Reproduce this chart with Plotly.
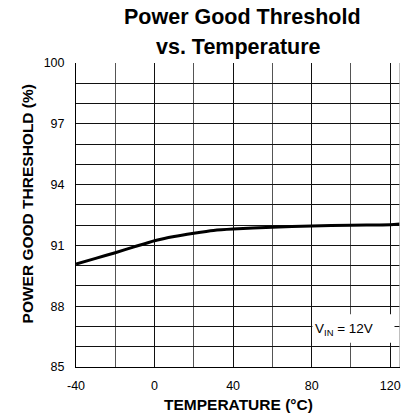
import plotly.graph_objects as go

temperature = [-40, -30, -20, -10, 0, 10, 20, 30, 40, 60, 80, 100, 120, 125]
threshold = [90.08, 90.36, 90.64, 90.94, 91.23, 91.44, 91.6, 91.74, 91.81, 91.89, 91.96, 92.0, 92.02, 92.05]

x_ticks = [-40, 0, 40, 80, 120]
y_ticks = [85, 88, 91, 94, 97, 100]

FONT = "Liberation Sans, Arial, sans-serif"

fig = go.Figure()
fig.add_trace(go.Scatter(
    x=temperature, y=threshold, mode="lines",
    line=dict(color="black", width=3, shape="spline", smoothing=0.6),
    hoverinfo="skip", showlegend=False,
))

# right border (light gray in the reference)
fig.add_shape(type="line", xref="x", yref="paper", x0=125, x1=125, y0=0, y1=1,
              line=dict(color="#aaaaaa", width=1.5), layer="above")

# label box
fig.add_shape(type="rect", xref="x", yref="y", x0=80.4, x1=122.2, y0=86.2, y1=87.6,
              fillcolor="white", line=dict(width=0), layer="above")
fig.add_annotation(x=80.8, y=86.85, xref="x", yref="y", xanchor="left", yanchor="middle",
                   text="V<sub>IN</sub> = 12V", showarrow=False,
                   font=dict(family=FONT, size=13.5, color="black"))

# title lines
fig.add_annotation(x=0.514, y=1.150, xref="paper", yref="paper", xanchor="center", yanchor="middle",
                   text="<b>Power Good Threshold</b>", showarrow=False,
                   font=dict(family=FONT, size=21.5, color="black"))
fig.add_annotation(x=0.50, y=1.054, xref="paper", yref="paper", xanchor="center", yanchor="middle",
                   text="<b>vs. Temperature</b>", showarrow=False,
                   font=dict(family=FONT, size=21.5, color="black"))

# axis titles
fig.add_annotation(x=0.50, y=-0.122, xref="paper", yref="paper", xanchor="center", yanchor="middle",
                   text="<b>TEMPERATURE (°C)</b>", showarrow=False,
                   font=dict(family=FONT, size=15.5, color="black"))
fig.add_annotation(x=-0.151, y=0.535, xref="paper", yref="paper", xanchor="center", yanchor="middle",
                   text="<b>POWER GOOD THRESHOLD (%)</b>", showarrow=False, textangle=-90,
                   font=dict(family=FONT, size=15.5, color="black"))

axis_common = dict(
    showline=True, linecolor="black", linewidth=1, mirror=False,
    showgrid=True, gridcolor="#111", gridwidth=1,
    ticks="", zeroline=False,
    tickfont=dict(family=FONT, size=12.5, color="black"),
)

fig.update_xaxes(
    range=[-40, 125], tickvals=x_ticks, ticktext=[str(v) for v in x_ticks],
    minor=dict(tickvals=list(range(-40, 126, 20)), showgrid=True, gridcolor="#555", gridwidth=1, ticks=""),
    ticklabelstandoff=7,
    **axis_common,
)
fig.update_yaxes(
    range=[85, 100], tickvals=y_ticks, ticktext=[str(v) for v in y_ticks],
    minor=dict(tickvals=list(range(85, 101)), showgrid=True, gridcolor="#111", gridwidth=1, ticks=""),
    ticklabelstandoff=8,
    **axis_common,
)

fig.update_layout(
    width=414, height=416,
    margin=dict(l=76, r=14, t=63, b=49, autoexpand=False),
    paper_bgcolor="white", plot_bgcolor="white",
    showlegend=False,
)

fig.write_html("out.html", config={"displayModeBar": False},
               post_script="document.body.style.margin='0';")
